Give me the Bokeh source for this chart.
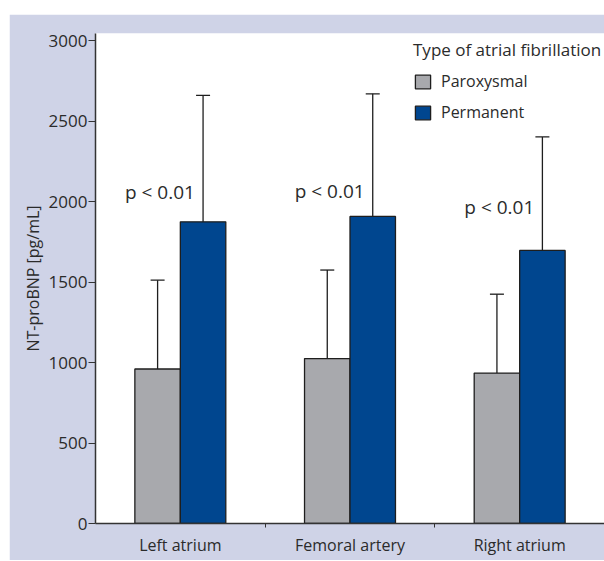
from bokeh.plotting import figure
from bokeh.models import (ColumnDataSource, Whisker, TeeHead, Legend, LegendItem,
                          FixedTicker)
from bokeh.core.properties import value
from bokeh.embed import file_html
from bokeh.resources import INLINE

# ---- data ----
categories = ["Left atrium", "Femoral artery", "Right atrium"]
paroxysmal_mean = [960, 1025, 935]
paroxysmal_upper = [1512, 1575, 1425]
paroxysmal_lower = [395, 461, 442]
permanent_mean = [1875, 1908, 1697]
permanent_upper = [2660, 2670, 2402]
permanent_lower = [1076, 1130, 987]
p_labels = ["p < 0.01", "p < 0.01", "p < 0.01"]
p_label_y = [2060, 2068, 1964]
y_ticks = [0, 500, 1000, 1500, 2000, 2500, 3000]

FONT = "Open Sans"
TXT = "#2b2b2b"
LAV = "#cfd3e7"
GREY = "#a8a9ad"
BLUE = "#00468f"

n = len(categories)
centers = [i + 0.5 for i in range(n)]
bw = 0.268
x_par = [c - bw / 2 for c in centers]
x_per = [c + bw / 2 for c in centers]
p_label_x = [c - 0.12 for c in centers]

p = figure(width=595, height=546, x_range=(0, 3), y_range=(0, 3045),
           output_backend="svg", toolbar_location=None,
           min_border_left=86, min_border_right=0, min_border_top=19,
           min_border_bottom=37)
p.margin = (14, 0, 0, 9)
p.background_fill_color = "white"
p.border_fill_color = LAV
p.outline_line_color = None
p.xgrid.visible = False
p.ygrid.visible = False

src_par = ColumnDataSource(dict(x=x_par, top=paroxysmal_mean,
                                upper=paroxysmal_upper, lower=paroxysmal_lower))
src_per = ColumnDataSource(dict(x=x_per, top=permanent_mean,
                                upper=permanent_upper, lower=permanent_lower))

r1 = p.vbar(x="x", top="top", width=bw, bottom=0, source=src_par,
            fill_color=GREY, line_color="#1e1e1e", line_width=1.3)
r2 = p.vbar(x="x", top="top", width=bw, bottom=0, source=src_per,
            fill_color=BLUE, line_color="#1e1e1e", line_width=1.3)

for src in (src_par, src_per):
    w = Whisker(base="x", upper="upper", lower="lower", source=src,
                line_color="#1e1e1e", line_width=1.3,
                upper_head=TeeHead(size=14, line_width=1.3, line_color="#1e1e1e"),
                lower_head=TeeHead(size=14, line_width=1.3, line_color="#1e1e1e"))
    p.add_layout(w)

p.text(x=p_label_x, y=p_label_y, text=p_labels, text_font=value(FONT),
       text_font_size="19px", text_color=TXT, text_align="center",
       text_baseline="middle")

# x axis
xa = p.xaxis[0]
xa.ticker = FixedTicker(ticks=centers, minor_ticks=[1, 2])
xa.major_label_overrides = {c: lab for c, lab in zip(centers, categories)}
xa.major_tick_out = 0
xa.major_tick_in = 0
xa.minor_tick_out = 4
xa.minor_tick_in = 0
xa.minor_tick_line_color = "#333333"
xa.axis_line_color = "#333333"
xa.axis_line_width = 1.5
xa.major_label_text_font = FONT
xa.major_label_text_font_size = "16px"
xa.major_label_text_color = TXT
xa.major_label_standoff = 6

# y axis
ya = p.yaxis[0]
ya.ticker = FixedTicker(ticks=y_ticks, minor_ticks=[])
ya.major_tick_out = 7
ya.major_tick_in = 0
ya.major_tick_line_color = "#333333"
ya.axis_line_color = "#333333"
ya.axis_line_width = 1.5
ya.major_label_text_font = FONT
ya.major_label_text_font_size = "17px"
ya.major_label_text_color = TXT
ya.major_label_standoff = 1
ya.axis_label = "NT-proBNP [pg/mL]"
ya.axis_label_text_font = FONT
ya.axis_label_text_font_size = "16px"
ya.axis_label_text_font_style = "normal"
ya.axis_label_text_color = TXT
ya.axis_label_standoff = 2

legend = Legend(items=[LegendItem(label="Paroxysmal", renderers=[r1]),
                       LegendItem(label="Permanent", renderers=[r2])],
                title="Type of atrial fibrillation", location=(318, 400))
legend.title_text_font = FONT
legend.title_text_font_size = "17px"
legend.title_text_font_style = "normal"
legend.title_text_color = TXT
legend.label_text_font = FONT
legend.label_text_font_size = "16px"
legend.label_text_color = TXT
legend.glyph_width = 19
legend.glyph_height = 17
legend.label_standoff = 9
legend.spacing = 9
legend.title_standoff = 9
legend.padding = 0
legend.margin = 0
legend.background_fill_alpha = 0
legend.border_line_alpha = 0
p.add_layout(legend)

open("out.html", "w").write(file_html(p, INLINE))
